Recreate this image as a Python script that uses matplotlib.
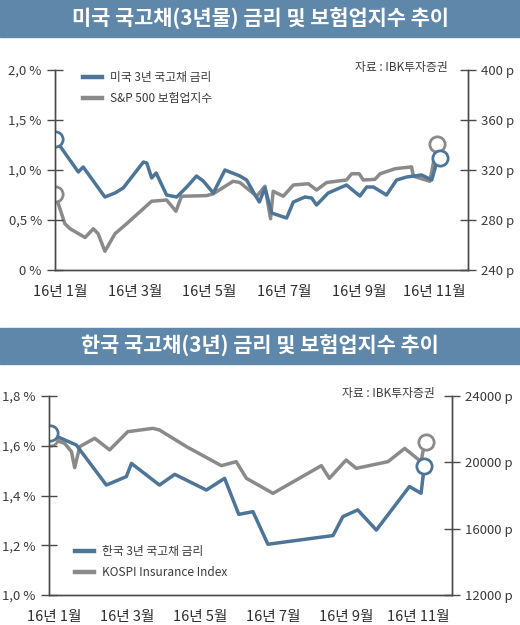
import matplotlib
matplotlib.use("Agg")
import matplotlib.pyplot as plt
from matplotlib.patches import Rectangle
from matplotlib.lines import Line2D

plt.rcParams['font.family'] = ['Noto Sans CJK KR', 'DejaVu Sans']

# --- data (x = month position, 1.0 = start of January 2016) ---
us_rate_x = [0.866, 1.49, 1.62, 2.20, 2.47, 2.69, 3.23, 3.32, 3.45, 3.57, 3.85, 4.12, 4.39,
             4.65, 4.83, 5.10, 5.41, 5.81, 5.99, 6.17, 6.33, 6.48, 6.66, 7.06, 7.24, 7.55,
             7.73, 7.86, 8.17, 8.66, 9.02, 9.20, 9.38, 9.73, 10.00, 10.27, 10.67, 10.94,
             11.07, 11.16]
us_rate = [1.31, 0.98, 1.03, 0.73, 0.77, 0.82, 1.08, 1.07, 0.92, 0.97, 0.75, 0.73, 0.83,
           0.94, 0.89, 0.77, 1.00, 0.94, 0.90, 0.78, 0.68, 0.82, 0.57, 0.52, 0.68, 0.73,
           0.72, 0.65, 0.77, 0.85, 0.74, 0.83, 0.83, 0.75, 0.90, 0.93, 0.95, 0.90,
           1.07, 1.12]

us_ins_x = [0.866, 1.13, 1.27, 1.67, 1.89, 2.02, 2.20, 2.47, 2.78, 3.45, 3.85, 4.10, 4.25,
            4.92, 5.10, 5.63, 5.81, 6.26, 6.48, 6.63, 6.70, 6.97, 7.24, 7.64, 7.86, 8.13,
            8.66, 8.80, 9.00, 9.11, 9.42, 9.56, 9.96, 10.40, 10.45, 10.89, 10.98, 11.07]
us_ins = [301, 277, 273, 266, 273, 269, 255, 269, 277, 295, 296, 287, 299,
          299.5, 301, 311, 310, 299, 307, 281, 303, 299, 308, 309, 304, 310,
          312, 317, 317, 312, 312.5, 317, 321, 322.5, 315, 311, 325, 341]

kr_rate_x = [0.863, 1.595, 2.42, 2.97, 3.11, 3.88, 4.30, 5.17, 5.67, 6.06, 6.45, 6.86,
             8.65, 8.92, 9.33, 9.84, 10.75, 11.07, 11.16]
kr_rate = [1.65, 1.603, 1.442, 1.476, 1.529, 1.442, 1.485, 1.422, 1.469, 1.324, 1.335, 1.204,
           1.239, 1.315, 1.342, 1.261, 1.436, 1.409, 1.52]

kr_ins_x = [0.863, 1.27, 1.46, 1.55, 1.69, 2.10, 2.51, 3.01, 3.70, 3.88, 4.62, 5.58, 5.99,
            6.27, 7.00, 8.33, 8.55, 9.01, 9.29, 10.16, 10.62, 11.07, 11.12, 11.21]
kr_ins = [21450, 21150, 20650, 19680, 20950, 21450, 20750, 21850, 22050, 21950, 20950, 19800,
          20040, 19035, 18130, 19800, 19035, 20140, 19640, 20040, 20840, 20040, 20640, 21250]

month_pos = [1, 3, 5, 7, 9, 11]
month_labels = ['16년 1월', '16년 3월', '16년 5월', '16년 7월', '16년 9월', '16년 11월']

us_left_ticks = [0, 0.5, 1.0, 1.5, 2.0]
us_left_labels = ['0 %', '0,5 %', '1,0 %', '1,5 %', '2,0 %']
us_right_ticks = [240, 280, 320, 360, 400]
kr_left_ticks = [1.0, 1.2, 1.4, 1.6, 1.8]
kr_left_labels = ['1,0 %', '1,2 %', '1,4 %', '1,6 %', '1,8 %']
kr_right_ticks = [12000, 16000, 20000, 24000]

BLUE = '#4d7598'
GRAY = '#8a8a8a'
BANNER = '#5f87aa'
SPINE = '#4a4a4a'
TXT = '#3a3a3a'

fig = plt.figure(figsize=(5.2, 6.25), dpi=100)
W, H = 520.0, 625.0


def banner(y0, y1, title):
    fig.patches.append(Rectangle((0, 1 - y1 / H), 1, (y1 - y0) / H,
                                 transform=fig.transFigure, color=BANNER, zorder=0))
    fig.text(0.5, 1 - (y0 + y1) / 2 / H, title, color='white', fontsize=15,
             fontweight='bold', ha='center', va='center')


def panel(rect, xlim, left_ticks, left_labels, lim_l, right_ticks, lim_r,
          rate_x, rate, ins_x, ins, names, legend_xy, tick_len):
    ax = fig.add_axes(rect)
    ax2 = ax.twinx()
    ax.set_zorder(ax2.get_zorder() + 1)
    ax.patch.set_visible(False)

    ax2.plot(ins_x, ins, color=GRAY, lw=2.5, solid_joinstyle='round')
    ax2.plot([ins_x[0], ins_x[-1]], [ins[0], ins[-1]], ls='none', marker='o', ms=11,
             mfc='white', mec=GRAY, mew=2)
    ax.plot(rate_x, rate, color=BLUE, lw=2.5, solid_joinstyle='round')
    ax.plot([rate_x[0], rate_x[-1]], [rate[0], rate[-1]], ls='none', marker='o', ms=11,
            mfc='white', mec=BLUE, mew=2)

    ax.set_xlim(*xlim)
    ax.set_ylim(*lim_l)
    ax2.set_ylim(*lim_r)
    ax.set_yticks(left_ticks, left_labels)
    ax2.set_yticks(right_ticks, [f'{v} p' for v in right_ticks])
    ax.set_xticks(month_pos, month_labels, style='italic')

    for a in (ax, ax2):
        a.spines['top'].set_visible(False)
        for s in ('left', 'right', 'bottom'):
            a.spines[s].set_color(SPINE)
            a.spines[s].set_linewidth(1)
    ax.tick_params(axis='y', direction='inout', length=tick_len, width=1, color=SPINE,
                   labelsize=9.5, labelcolor=TXT, pad=4)
    ax2.tick_params(axis='y', direction='inout', length=tick_len, width=1, color=SPINE,
                    labelsize=9.5, labelcolor=TXT, pad=4)
    ax.tick_params(axis='x', length=0, labelsize=10.5, labelcolor='#2e2e2e', pad=11)
    for lab in ax.get_yticklabels() + ax2.get_yticklabels():
        lab.set_fontweight('light')

    handles = [Line2D([], [], color=BLUE, lw=3.2), Line2D([], [], color=GRAY, lw=3.2)]
    leg = ax.legend(handles, names, loc='upper left', bbox_to_anchor=legend_xy,
                    bbox_transform=fig.transFigure, frameon=False, fontsize=8.5,
                    handlelength=1.6, handletextpad=0.7, labelspacing=0.65,
                    borderpad=0, borderaxespad=0)
    for t in leg.get_texts():
        t.set_color(TXT)
    return ax


# top panel: US
banner(0, 37, '미국 국고채(3년물) 금리 및 보험업지수 추이')
panel([55 / W, 1 - 270 / H, 413 / W, 200 / H], (0.866, 11.91),
      us_left_ticks, us_left_labels, (0, 2.0), us_right_ticks, (240, 400),
      us_rate_x, us_rate, us_ins_x, us_ins,
      ['미국 3년 국고채 금리', 'S&P 500 보험업지수'], (83 / W, 1 - 71 / H), 11)
fig.text(448 / W, 1 - 68 / H, '자료 : IBK투자증권', fontsize=8.5, color=TXT,
         ha='right', va='center', fontweight='light')

# bottom panel: Korea
banner(328, 364, '한국 국고채(3년) 금리 및 보험업지수 추이')
panel([49 / W, 1 - 595 / H, 403 / W, 199 / H], (0.844, 11.92),
      kr_left_ticks, kr_left_labels, (1.0, 1.8), kr_right_ticks, (12000, 24000),
      kr_rate_x, kr_rate, kr_ins_x, kr_ins,
      ['한국 3년 국고채 금리', 'KOSPI Insurance Index'], (75 / W, 1 - 545 / H), 11)
fig.text(435 / W, 1 - 393 / H, '자료 : IBK투자증권', fontsize=8.5, color=TXT,
         ha='right', va='center', fontweight='light')

fig.savefig('out.png', dpi=100)
